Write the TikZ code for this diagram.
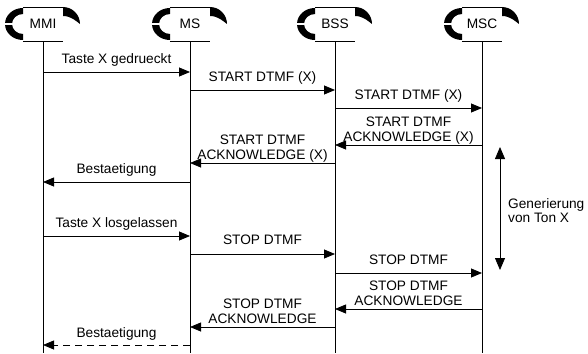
\documentclass[tikz,border=0pt]{standalone}
\usepackage{fontspec}
\setmainfont{Liberation Sans}
\usetikzlibrary{arrows.meta,calc}

% header box of a lifeline: framed top and bottom, black crescents at the sides
\newcommand\lifehead[3]{%
  \node[headbox] (#1) at (#2,-24) {#3};
  \draw (#1.north west) -- (#1.north east);
  \draw (#1.south west) -- (#1.south east);
  \begin{scope}[shift={(#1.center)}]
    \fill (-20,16) arc[start angle=90,end angle=270,x radius=18,y radius=16]
      -- (-20,-10) arc[start angle=270,end angle=90,x radius=11,y radius=10] -- cycle;
    \draw[white,line width=1.1pt] (-39,0) -- (-20,0);
    \fill (20,17) arc[start angle=90,end angle=0,radius=17]
      .. controls (33,3) and (28,8) .. (20,8) -- cycle;
  \end{scope}
  \draw[line width=0.8pt] (#1.south) -- (#1.south |- bottom);
}

\begin{document}
\begin{tikzpicture}[x=1pt,y=1pt,
  font=\fontsize{13.7}{14.3}\selectfont,
  headbox/.style={minimum width=40pt,minimum height=34pt,inner sep=0pt},
  msg/.style={line width=0.8pt,-{Triangle[length=11pt,width=9pt]}},
  back/.style={msg,dash pattern=on 7pt off 5pt},
  lblbase/.style={midway,anchor=north,inner sep=0pt,align=center},
  lbl/.style={lblbase,yshift=#1},
  lbl/.default=19pt,
  lbltwo/.style={lblbase,yshift=28pt}]
\useasboundingbox (0,0) rectangle (588,-353);
\coordinate (bottom) at (0,-353);

\lifehead{mmi}{43}{MMI}
\lifehead{ms}{190}{MS}
\lifehead{bss}{335}{BSS}
\lifehead{msc}{482}{MSC}

% message rows
\coordinate (m1) at (0,-72);
\coordinate (m2) at (0,-90);
\coordinate (m3) at (0,-108);
\coordinate (m4) at (0,-145);
\coordinate (m5) at (0,-163);
\coordinate (m6) at (0,-182);
\coordinate (m7) at (0,-236);
\coordinate (m8) at (0,-254);
\coordinate (m9) at (0,-273);
\coordinate (m10) at (0,-309);
\coordinate (m11) at (0,-327);
\coordinate (m12) at (0,-345);

\draw[msg] (mmi |- m1) -- (ms |- m1) node[lbl] {Taste X gedrueckt};
\draw[msg] (ms |- m2) -- (bss |- m2) node[lbl] {START DTMF (X)};
\draw[msg] (bss |- m3) -- (msc |- m3) node[lbl] {START DTMF (X)};
\draw[msg] (msc |- m4) -- (bss |- m4) node[lbltwo] {START DTMF\\ACKNOWLEDGE (X)};
\draw[msg] (bss |- m5) -- (ms |- m5) node[lbltwo] {START DTMF\\ACKNOWLEDGE (X)};
\draw[msg] (ms |- m6) -- (mmi |- m6) node[lbl] {Bestaetigung};
\draw[msg] (mmi |- m7) -- (ms |- m7) node[lbl] {Taste X losgelassen};
\draw[msg] (ms |- m8) -- (bss |- m8) node[lbl] {STOP DTMF};
\draw[msg] (bss |- m9) -- (msc |- m9) node[lbl=18pt] {STOP DTMF};
\draw[msg] (msc |- m10) -- (bss |- m10) node[lbltwo] {STOP DTMF\\ACKNOWLEDGE};
\draw[msg] (bss |- m11) -- (ms |- m11) node[lbltwo] {STOP DTMF\\ACKNOWLEDGE};
\draw[back] (ms |- m12) -- (mmi |- m12) node[lbl=18pt] {Bestaetigung};

% duration of the tone
\coordinate (g1) at (500,-147);
\coordinate (g2) at (500,-270);
\draw[line width=0.8pt,{Triangle[length=12pt,width=10pt]}-{Triangle[length=12pt,width=10pt]}] (g1) -- (g2);
\node[anchor=north west,inner sep=0pt,align=left] (gen) at (508,-198) {Generierung\\von Ton X};
\end{tikzpicture}
\end{document}
